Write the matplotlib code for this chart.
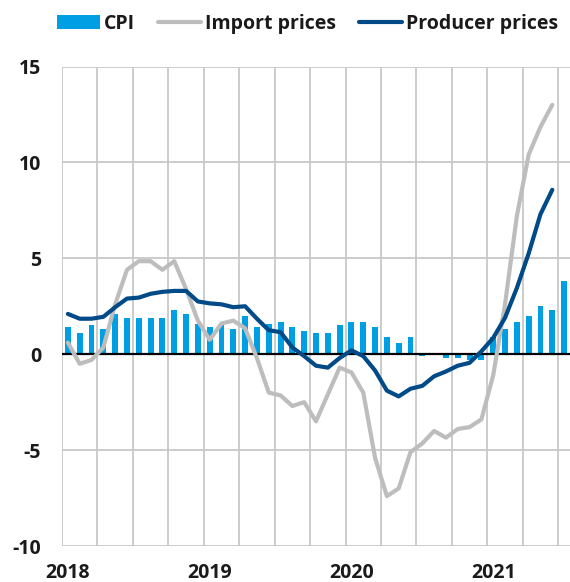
import matplotlib
matplotlib.use('Agg')
from matplotlib import pyplot, ticker
import numpy

# Monthly data, Jan 2018 onwards (annual % change)
cpi = [1.4, 1.1, 1.5, 1.3, 2.1, 1.9, 1.9, 1.9, 1.9, 2.3, 2.1, 1.6,
       1.4, 1.5, 1.3, 2.0, 1.4, 1.6, 1.7, 1.4, 1.2, 1.1, 1.1, 1.5,
       1.7, 1.7, 1.4, 0.9, 0.6, 0.9, -0.1, 0.0, -0.2, -0.2, -0.3, -0.3,
       0.9, 1.3, 1.7, 2.0, 2.5, 2.3, 3.8]
import_prices = [0.6, -0.5, -0.3, 0.35, 2.6, 4.4, 4.85, 4.85, 4.4, 4.85, 3.4, 1.75,
                 0.75, 1.6, 1.75, 1.35, -0.2, -2.0, -2.15, -2.7, -2.5, -3.5, -2.1, -0.7,
                 -0.95, -2.0, -5.4, -7.4, -7.0, -5.1, -4.65, -4.0, -4.35, -3.9, -3.8, -3.4,
                 -1.1, 2.6, 7.2, 10.4, 11.85, 13.0]
producer_prices = [2.1, 1.85, 1.85, 1.95, 2.45, 2.9, 2.95, 3.15, 3.25, 3.3, 3.3, 2.75,
                   2.65, 2.6, 2.45, 2.5, 1.85, 1.25, 1.15, 0.35, -0.1, -0.6, -0.7, -0.2,
                   0.2, -0.1, -0.85, -1.9, -2.2, -1.8, -1.65, -1.15, -0.9, -0.6, -0.45, 0.15,
                   0.85, 1.9, 3.45, 5.25, 7.3, 8.57]
year_labels = ['2018', '2019', '2020', '2021']

cpi_color = '#009fe3'
import_color = '#bdbdbd'
producer_color = '#004b87'
grid_color = '#c8c8c8'
text_color = '#1a1a1a'

pyplot.rcParams['font.family'] = ['Open Sans', 'DejaVu Sans']
pyplot.rcParams['font.weight'] = 'bold'
pyplot.rcParams['axes.unicode_minus'] = False

fig = pyplot.figure(figsize=(5.7, 5.82), dpi=100)
ax = fig.add_axes([62 / 570, 1 - 546 / 582, 1 - 62 / 570, (546 - 66.5) / 582])

xcpi = numpy.arange(len(cpi))
xlines = numpy.arange(len(import_prices))

bars = ax.bar(xcpi, cpi, width=0.5, color=cpi_color, label='CPI', zorder=2)
ax.axhline(0, color='black', linewidth=1.6, zorder=3)
imp, = ax.plot(xlines, import_prices, color=import_color, linewidth=3, label='Import prices',
               solid_joinstyle='round', solid_capstyle='round', zorder=4)
prod, = ax.plot(xlines, producer_prices, color=producer_color, linewidth=3, label='Producer prices',
                solid_joinstyle='round', solid_capstyle='round', zorder=5)

ax.set_xlim(-0.5, 42.5)
ax.set_ylim(-10, 15)

# year labels on the first month of each year, grid every quarter
ax.xaxis.set_major_locator(ticker.FixedLocator([0, 12, 24, 36]))
ax.xaxis.set_major_formatter(ticker.FixedFormatter(year_labels))
ax.xaxis.set_minor_locator(ticker.FixedLocator(numpy.arange(-0.5, 43, 3)))
ax.yaxis.set_major_locator(ticker.MultipleLocator(5))

ax.grid(axis='x', which='minor', color=grid_color, linewidth=1.3, zorder=0)
ax.grid(axis='y', which='major', color=grid_color, linewidth=1.3, zorder=0)
ax.set_axisbelow(True)

ax.tick_params(axis='both', which='both', length=0, labelsize=14)
ax.tick_params(axis='x', pad=12)
ax.tick_params(axis='y', pad=15)
for lab in ax.get_xticklabels() + ax.get_yticklabels():
    lab.set_fontweight('bold')
    lab.set_color(text_color)

for s in ax.spines.values():
    s.set_visible(False)

leg = fig.legend([bars, imp, prod], ['CPI', 'Import prices', 'Producer prices'],
                 loc='center', bbox_to_anchor=(0.54, 1 - 24 / 582), ncol=3, frameon=False,
                 fontsize=14, handlelength=2.2, handleheight=0.7, handletextpad=0.2,
                 columnspacing=1.2, borderaxespad=0)
for t in leg.get_texts():
    t.set_fontweight('bold')
    t.set_color(text_color)

pyplot.savefig('out.png', dpi=100)
